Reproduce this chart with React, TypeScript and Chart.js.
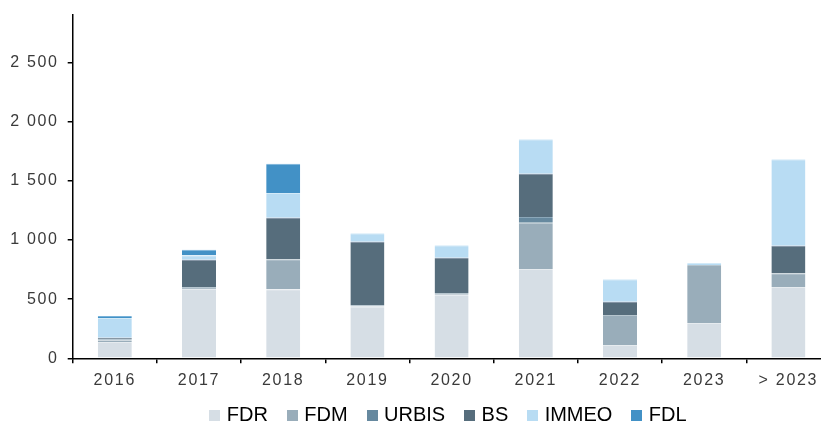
import React, { useEffect, useRef } from 'react';
import { Chart, registerables } from 'chart.js';

Chart.register(...registerables);

// Maturity buckets on the x axis
const categories = ['2016', '2017', '2018', '2019', '2020', '2021', '2022', '2023', '> 2023'];

// Amounts per funding source (stacked, bottom to top)
const fdr = [138, 585, 583, 437, 537, 754, 112, 298, 602];
const fdm = [15, 12, 253, 13, 14, 391, 254, 490, 116];
const urbis = [8, 5, 0, 0, 0, 48, 0, 0, 0];
const bs = [12, 231, 352, 535, 299, 366, 112, 0, 233];
const immeo = [168, 37, 208, 71, 104, 291, 189, 17, 730];
const fdl = [17, 48, 248, 0, 0, 0, 0, 0, 0];

const seriesNames = ['FDR', 'FDM', 'URBIS', 'BS', 'IMMEO', 'FDL'];
const seriesValues = [fdr, fdm, urbis, bs, immeo, fdl];
const seriesColors = ['#d6dee5', '#99adba', '#66899f', '#566d7c', '#b8dcf3', '#4291c6'];
const seriesEdges = ['#e6ebef', '#b6c5ce', '#8ba7b9', '#74879a', '#d3eaf8', '#78b2d9'];

// Value axis
const yTickValues = [0, 500, 1000, 1500, 2000, 2500];
const yAxisMax = 2900;

const FONT = 'Arial, "Liberation Sans", sans-serif';
const TICK_COLOR = '#3a3a3a';

function formatThousands(v: number): string {
  return String(Math.round(v)).replace(/\B(?=(\d{3})+(?!\d))/g, ' ');
}

function swatch(color: string): HTMLCanvasElement {
  const c = document.createElement('canvas');
  c.width = 11;
  c.height = 11;
  const g = c.getContext('2d')!;
  g.fillStyle = color;
  g.fillRect(0, 0, 11, 11);
  return c;
}

// Slightly spaced axis lettering; the legend keeps normal spacing
// and sits a little left of the plot centre. Category labels are
// allowed to run below the (short) x-axis box.
const axisLetterSpacing = {
  id: 'axisLetterSpacing',
  afterLayout(chart: any) {
    const lg = chart.legend;
    if (lg) {
      lg.left -= 1.9;
      lg.right -= 1.9;
    }
    const x = chart.scales.x;
    if (x) x._computeLabelArea = () => undefined;
  },
  beforeDraw(chart: any) {
    const lg = chart.legend;
    if (lg && !lg._plainText) {
      const draw = lg.draw.bind(lg);
      lg.draw = (...args: any[]) => {
        const ctx = chart.ctx as any;
        const prev = ctx.letterSpacing;
        ctx.letterSpacing = '0px';
        draw(...args);
        ctx.letterSpacing = prev;
      };
      lg._plainText = true;
    }
    (chart.ctx as any).letterSpacing = '1.7px';
  },
  afterDraw(chart: any) {
    (chart.ctx as any).letterSpacing = '0px';
  },
};

export default function App() {
  const canvasRef = useRef<HTMLCanvasElement>(null);

  useEffect(() => {
    const swatches = seriesColors.map(swatch);
    const chart = new Chart(canvasRef.current!, {
      type: 'bar',
      data: {
        labels: categories,
        datasets: seriesNames.map((name, i) => ({
          label: name,
          data: seriesValues[i],
          backgroundColor: seriesColors[i],
          borderColor: seriesEdges[i],
          borderWidth: { top: 1, right: 0, bottom: 0, left: 0 },
          borderSkipped: false,
          barPercentage: 0.404,
          categoryPercentage: 1,
        })),
      },
      options: {
        responsive: true,
        maintainAspectRatio: false,
        animation: false,
        devicePixelRatio: 1,
        layout: { padding: { left: 0, right: 9.5, top: 15, bottom: 0 } },
        scales: {
          x: {
            stacked: true,
            grid: {
              display: true,
              drawOnChartArea: false,
              drawTicks: true,
              tickLength: 5,
              color: '#000',
              lineWidth: 1.5,
              offset: true,
            },
            border: { display: true, color: '#000', width: 1.5 },
            ticks: {
              color: TICK_COLOR,
              font: { size: 16, family: FONT },
              padding: 7.8,
              maxRotation: 0,
              autoSkip: false,
            },
            afterFit(scale: any) {
              scale.height = 24.3;
            },
          },
          y: {
            stacked: true,
            min: 0,
            max: yAxisMax,
            grid: {
              display: true,
              drawOnChartArea: false,
              drawTicks: true,
              tickLength: 5,
              color: '#000',
              lineWidth: 1.5,
            },
            border: { display: true, color: '#000', width: 1.5 },
            ticks: {
              color: TICK_COLOR,
              font: { size: 16, family: FONT },
              padding: 9,
              callback: (v: any) => formatThousands(Number(v)),
            },
            afterBuildTicks(scale: any) {
              scale.ticks = yTickValues.map((v) => ({ value: v }));
            },
            afterFit(scale: any) {
              scale.width = 72.7;
              scale.paddingTop = 0;
              scale.paddingBottom = 0;
            },
          },
        },
        plugins: {
          tooltip: { enabled: false },
          legend: {
            position: 'bottom',
            fullSize: false,
            labels: {
              usePointStyle: true,
              pointStyleWidth: 4,
              boxHeight: 11,
              padding: 22.4,
              color: '#000',
              font: { size: 20, family: FONT },
              generateLabels: (c: any) =>
                c.data.datasets.map((ds: any, i: number) => ({
                  text: ds.label,
                  fillStyle: seriesColors[i],
                  strokeStyle: seriesColors[i],
                  lineWidth: 0,
                  pointStyle: swatches[i],
                  hidden: false,
                  datasetIndex: i,
                  fontColor: '#000',
                })),
            },
          },
        },
      } as any,
      plugins: [axisLetterSpacing],
    });
    return () => chart.destroy();
  }, []);

  return (
    <div
      style={{
        position: 'fixed',
        left: 0,
        top: 0,
        width: 821,
        height: 423,
        overflow: 'hidden',
        background: '#fff',
      }}
    >
      <div style={{ position: 'relative', width: 840, height: 435 }}>
        <canvas ref={canvasRef} />
      </div>
    </div>
  );
}
